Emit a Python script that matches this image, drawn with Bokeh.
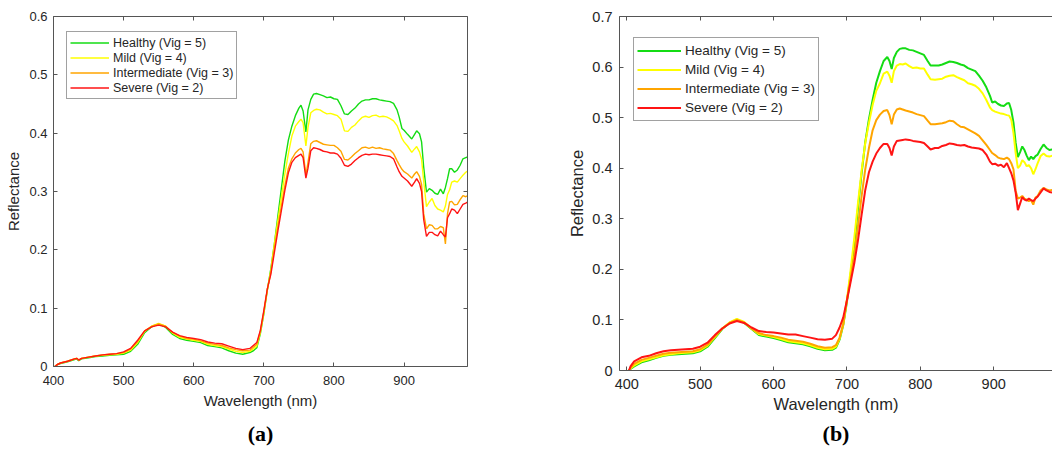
from bokeh.plotting import figure
from bokeh.models import LinearAxis, FixedTicker, Legend, LegendItem, Range1d, Title
from bokeh.layouts import row
from bokeh.embed import file_html
from bokeh.resources import INLINE

# ---------------- data ----------------
series_names = ["Healthy (Vig = 5)", "Mild (Vig = 4)", "Intermediate (Vig = 3)", "Severe (Vig = 2)"]
series_colors = ["#14dc14", "#ffff00", "#ffa500", "#ff1414"]

x_ticks = [400, 500, 600, 700, 800, 900]
x_tick_labels = ["400", "500", "600", "700", "800", "900"]
ya_ticks = [0, 0.1, 0.2, 0.3, 0.4, 0.5, 0.6]
ya_tick_labels = ["0", "0.1", "0.2", "0.3", "0.4", "0.5", "0.6"]
yb_ticks = [0, 0.1, 0.2, 0.3, 0.4, 0.5, 0.6, 0.7]
yb_tick_labels = ["0", "0.1", "0.2", "0.3", "0.4", "0.5", "0.6", "0.7"]

# panel (a)
wl_a = [402, 405, 410, 420, 430, 433, 436, 440, 450, 460, 470, 480, 490, 500, 510, 520, 530, 540,
        550, 560, 570, 580, 590, 600, 610, 620, 630, 640, 650, 660, 670, 680, 685, 690, 695, 700,
        705, 710, 715, 720, 725, 730, 735, 740, 745, 750, 753, 756, 760, 763, 767, 771, 775, 780,
        785, 790, 795, 800, 805, 810, 815, 820, 825, 830, 835, 840, 845, 850, 855, 860, 865, 870,
        875, 880, 885, 890, 893, 897, 900, 905, 911, 915, 918, 922, 925, 928, 932, 936, 940, 944,
        948, 952, 956, 959, 962, 965, 968, 972, 976, 980, 984, 988, 992]
healthy_a = [0.000, 0.003, 0.005, 0.008, 0.012, 0.013, 0.010, 0.013, 0.015, 0.017, 0.018, 0.019, 0.020,
             0.021, 0.026, 0.038, 0.058, 0.068, 0.073, 0.067, 0.055, 0.048, 0.045, 0.043, 0.041, 0.036,
             0.034, 0.032, 0.027, 0.023, 0.021, 0.024, 0.027, 0.032, 0.056, 0.090, 0.131, 0.168, 0.210,
             0.258, 0.305, 0.352, 0.388, 0.412, 0.430, 0.443, 0.448, 0.438, 0.402, 0.440, 0.458, 0.467,
             0.468, 0.466, 0.464, 0.461, 0.462, 0.459, 0.458, 0.447, 0.433, 0.432, 0.438, 0.443, 0.450,
             0.455, 0.457, 0.457, 0.459, 0.459, 0.457, 0.456, 0.455, 0.454, 0.451, 0.440, 0.428, 0.408,
             0.405, 0.398, 0.390, 0.398, 0.404, 0.399, 0.385, 0.342, 0.299, 0.305, 0.302, 0.297, 0.295,
             0.304, 0.296, 0.307, 0.322, 0.339, 0.339, 0.333, 0.337, 0.345, 0.356, 0.358, 0.360]
mild_a = [0.000, 0.003, 0.006, 0.009, 0.013, 0.014, 0.011, 0.014, 0.016, 0.018, 0.019, 0.020, 0.021,
          0.023, 0.028, 0.041, 0.060, 0.069, 0.074, 0.069, 0.057, 0.050, 0.047, 0.045, 0.043, 0.038,
          0.036, 0.034, 0.030, 0.026, 0.024, 0.026, 0.030, 0.035, 0.058, 0.092, 0.131, 0.165, 0.210,
          0.250, 0.290, 0.330, 0.365, 0.395, 0.412, 0.420, 0.424, 0.418, 0.378, 0.410, 0.435, 0.439,
          0.441, 0.440, 0.436, 0.433, 0.434, 0.432, 0.430, 0.424, 0.404, 0.403, 0.410, 0.414, 0.421,
          0.427, 0.429, 0.427, 0.430, 0.431, 0.428, 0.429, 0.428, 0.425, 0.421, 0.413, 0.404, 0.391,
          0.385, 0.378, 0.367, 0.373, 0.377, 0.368, 0.355, 0.318, 0.274, 0.282, 0.288, 0.276, 0.270,
          0.268, 0.265, 0.275, 0.295, 0.303, 0.316, 0.318, 0.316, 0.322, 0.328, 0.333, 0.336]
inter_a = [0.000, 0.003, 0.006, 0.009, 0.013, 0.014, 0.011, 0.014, 0.016, 0.018, 0.020, 0.021, 0.022,
           0.024, 0.030, 0.043, 0.061, 0.069, 0.073, 0.069, 0.058, 0.052, 0.048, 0.047, 0.044, 0.040,
           0.038, 0.036, 0.032, 0.029, 0.027, 0.028, 0.033, 0.038, 0.060, 0.094, 0.132, 0.162, 0.203,
           0.240, 0.275, 0.310, 0.340, 0.356, 0.366, 0.372, 0.374, 0.368, 0.328, 0.350, 0.382, 0.386,
           0.387, 0.384, 0.381, 0.380, 0.379, 0.379, 0.375, 0.369, 0.355, 0.354, 0.359, 0.365, 0.370,
           0.375, 0.376, 0.374, 0.376, 0.374, 0.375, 0.373, 0.372, 0.371, 0.365, 0.353, 0.346, 0.338,
           0.334, 0.330, 0.323, 0.330, 0.334, 0.326, 0.312, 0.262, 0.236, 0.243, 0.242, 0.236, 0.236,
           0.240, 0.238, 0.210, 0.262, 0.282, 0.283, 0.277, 0.278, 0.286, 0.293, 0.291, 0.294]
severe_a = [0.000, 0.003, 0.006, 0.009, 0.013, 0.014, 0.011, 0.014, 0.016, 0.018, 0.020, 0.021, 0.022,
            0.025, 0.031, 0.045, 0.061, 0.068, 0.071, 0.068, 0.059, 0.053, 0.050, 0.048, 0.046, 0.042,
            0.040, 0.039, 0.035, 0.031, 0.029, 0.031, 0.036, 0.041, 0.062, 0.096, 0.133, 0.158, 0.195,
            0.232, 0.267, 0.302, 0.332, 0.350, 0.358, 0.362, 0.364, 0.358, 0.323, 0.340, 0.370, 0.375,
            0.374, 0.372, 0.369, 0.368, 0.366, 0.366, 0.364, 0.357, 0.345, 0.343, 0.347, 0.353, 0.358,
            0.362, 0.364, 0.363, 0.364, 0.364, 0.363, 0.362, 0.361, 0.360, 0.356, 0.342, 0.334, 0.326,
            0.323, 0.318, 0.309, 0.316, 0.322, 0.314, 0.300, 0.252, 0.223, 0.230, 0.230, 0.226, 0.224,
            0.232, 0.226, 0.222, 0.255, 0.262, 0.270, 0.268, 0.262, 0.270, 0.278, 0.280, 0.283]

# panel (b)
wl_b = [403, 405, 410, 420, 430, 440, 450, 460, 470, 480, 490, 500, 510, 520, 530, 540, 550, 560, 570,
        580, 590, 600, 610, 620, 630, 640, 650, 660, 670, 680, 685, 690, 695, 700, 705, 710, 715, 720,
        725, 730, 735, 740, 745, 750, 755, 758, 761, 764, 768, 772, 776, 780, 785, 790, 795, 800, 805,
        810, 814, 820, 825, 830, 835, 840, 845, 850, 855, 860, 865, 870, 875, 880, 885, 890, 895, 898,
        902, 906, 910, 914, 918, 921, 924, 927, 930, 933, 936, 939, 942, 945, 948, 951, 954, 957, 960,
        964, 968, 972, 976, 980, 985]
healthy_b = [0.000, 0.003, 0.008, 0.016, 0.020, 0.025, 0.029, 0.031, 0.032, 0.033, 0.034, 0.038, 0.047,
             0.064, 0.082, 0.094, 0.101, 0.094, 0.082, 0.070, 0.067, 0.064, 0.060, 0.056, 0.054, 0.052,
             0.048, 0.043, 0.040, 0.041, 0.045, 0.061, 0.090, 0.136, 0.190, 0.248, 0.320, 0.390, 0.452,
             0.497, 0.535, 0.569, 0.592, 0.612, 0.620, 0.612, 0.596, 0.618, 0.630, 0.636, 0.637, 0.637,
             0.634, 0.633, 0.630, 0.627, 0.624, 0.612, 0.603, 0.603, 0.603, 0.605, 0.608, 0.611, 0.610,
             0.608, 0.605, 0.603, 0.598, 0.595, 0.592, 0.583, 0.573, 0.560, 0.543, 0.530, 0.532, 0.527,
             0.524, 0.523, 0.528, 0.529, 0.515, 0.490, 0.450, 0.422, 0.432, 0.443, 0.436, 0.425, 0.416,
             0.423, 0.418, 0.424, 0.427, 0.438, 0.447, 0.440, 0.436, 0.437, 0.438]
mild_b = [0.000, 0.004, 0.010, 0.018, 0.022, 0.026, 0.030, 0.032, 0.034, 0.035, 0.036, 0.040, 0.049,
          0.066, 0.083, 0.095, 0.102, 0.096, 0.083, 0.072, 0.069, 0.066, 0.062, 0.058, 0.056, 0.054,
          0.050, 0.045, 0.042, 0.043, 0.047, 0.063, 0.092, 0.140, 0.198, 0.262, 0.330, 0.395, 0.450,
          0.490, 0.525, 0.553, 0.568, 0.587, 0.591, 0.583, 0.569, 0.592, 0.603, 0.606, 0.605, 0.607,
          0.602, 0.598, 0.599, 0.597, 0.597, 0.585, 0.576, 0.575, 0.576, 0.577, 0.581, 0.583, 0.584,
          0.580, 0.577, 0.574, 0.568, 0.566, 0.563, 0.557, 0.548, 0.535, 0.520, 0.515, 0.512, 0.510,
          0.508, 0.507, 0.505, 0.504, 0.496, 0.470, 0.430, 0.400, 0.405, 0.416, 0.412, 0.404, 0.406,
          0.400, 0.388, 0.398, 0.410, 0.424, 0.429, 0.424, 0.423, 0.425, 0.426]
inter_b = [0.000, 0.005, 0.013, 0.021, 0.025, 0.029, 0.033, 0.035, 0.036, 0.037, 0.038, 0.042, 0.051,
           0.067, 0.083, 0.094, 0.100, 0.095, 0.083, 0.074, 0.070, 0.068, 0.065, 0.061, 0.059, 0.057,
           0.053, 0.048, 0.045, 0.046, 0.050, 0.065, 0.092, 0.139, 0.182, 0.228, 0.285, 0.345, 0.398,
           0.440, 0.475, 0.495, 0.506, 0.513, 0.515, 0.505, 0.487, 0.506, 0.516, 0.518, 0.516, 0.514,
           0.512, 0.510, 0.507, 0.505, 0.503, 0.494, 0.487, 0.487, 0.488, 0.489, 0.491, 0.494, 0.493,
           0.487, 0.482, 0.481, 0.477, 0.473, 0.469, 0.464, 0.455, 0.446, 0.436, 0.430, 0.426, 0.421,
           0.419, 0.418, 0.421, 0.418, 0.410, 0.398, 0.355, 0.340, 0.342, 0.345, 0.340, 0.338, 0.335,
           0.337, 0.328, 0.342, 0.345, 0.356, 0.361, 0.358, 0.356, 0.357, 0.358]
severe_b = [0.000, 0.008, 0.018, 0.026, 0.029, 0.034, 0.038, 0.040, 0.041, 0.042, 0.043, 0.047, 0.055,
            0.070, 0.083, 0.093, 0.098, 0.094, 0.085, 0.078, 0.076, 0.075, 0.073, 0.071, 0.071, 0.068,
            0.065, 0.062, 0.061, 0.063, 0.070, 0.085, 0.105, 0.139, 0.175, 0.212, 0.257, 0.308, 0.357,
            0.392, 0.413, 0.429, 0.440, 0.448, 0.448, 0.440, 0.425, 0.443, 0.454, 0.455, 0.456, 0.457,
            0.456, 0.454, 0.453, 0.452, 0.450, 0.443, 0.437, 0.440, 0.440, 0.444, 0.446, 0.449, 0.448,
            0.446, 0.445, 0.446, 0.443, 0.441, 0.440, 0.439, 0.436, 0.427, 0.413, 0.408, 0.409, 0.405,
            0.407, 0.402, 0.410, 0.400, 0.390, 0.376, 0.352, 0.317, 0.330, 0.343, 0.338, 0.336, 0.340,
            0.337, 0.335, 0.340, 0.344, 0.352, 0.360, 0.356, 0.353, 0.352, 0.354]

FONT = "Liberation Sans"
TXT = "#262626"
AXC = "#555555"


def style_axis(ax, ticks, labels, fs, show_labels=True):
    ax.ticker = FixedTicker(ticks=ticks)
    ax.axis_line_color = AXC
    ax.axis_line_width = 1
    ax.major_tick_line_color = AXC
    ax.major_tick_in = 4
    ax.major_tick_out = 0
    ax.minor_tick_in = 0
    ax.minor_tick_out = 0
    if show_labels:
        ax.major_label_overrides = dict(zip(ticks, labels))
        ax.major_label_text_font = FONT
        ax.major_label_text_font_size = fs
        ax.major_label_text_color = TXT
    else:
        # frame-side ticks only (MATLAB box style), labels not drawn
        ax.major_label_text_font_size = "1px"
        ax.major_label_text_color = None
        ax.major_label_standoff = 0


def make_panel(wl, data, xr, yr, yticks, ylabels, frame_w, frame_h, b_left, b_right, b_top,
               b_bottom, fs_tick, fs_label, fs_leg, lw, x_standoff, y_standoff, lab_standoff,
               leg_xy, leg_row, leg_glyph, leg_pad, tag, tag_offset, tag_standoff, right_axis):
    p = figure(output_backend="svg", toolbar_location=None,
               frame_width=frame_w, frame_height=frame_h,
               x_range=Range1d(*xr), y_range=Range1d(*yr),
               min_border_left=b_left, min_border_right=b_right,
               min_border_top=b_top, min_border_bottom=b_bottom)
    p.outline_line_color = None
    p.xgrid.visible = False
    p.ygrid.visible = False
    p.background_fill_color = "white"
    p.border_fill_color = "white"

    style_axis(p.xaxis[0], x_ticks, x_tick_labels, fs_tick)
    style_axis(p.yaxis[0], yticks, ylabels, fs_tick)
    p.xaxis[0].major_label_standoff = x_standoff
    p.yaxis[0].major_label_standoff = y_standoff
    for ax, lab in ((p.xaxis[0], "Wavelength (nm)"), (p.yaxis[0], "Reflectance")):
        ax.axis_label = lab
        ax.axis_label_text_font = FONT
        ax.axis_label_text_font_size = fs_label
        ax.axis_label_text_font_style = "normal"
        ax.axis_label_text_color = TXT
        ax.axis_label_standoff = lab_standoff

    top = LinearAxis()
    style_axis(top, x_ticks, x_tick_labels, fs_tick, show_labels=False)
    p.add_layout(top, "above")
    if right_axis:
        rgt = LinearAxis()
        style_axis(rgt, yticks, ylabels, fs_tick, show_labels=False)
        p.add_layout(rgt, "right")

    items = []
    for name, col, ys in zip(series_names, series_colors, data):
        r = p.line(wl, ys, line_color=col, line_width=lw)
        items.append(LegendItem(label=name, renderers=[r]))

    leg_h = 2 * leg_pad + 4 * leg_row
    legend = Legend(items=items, location=(leg_xy[0], frame_h - leg_xy[1] - leg_h),
                    margin=0, padding=leg_pad, spacing=0,
                    glyph_width=leg_glyph, glyph_height=leg_row, label_height=leg_row,
                    label_standoff=4, label_text_font=FONT, label_text_font_size=fs_leg,
                    label_text_color=TXT, border_line_color="#444444", border_line_width=1,
                    background_fill_color="white", background_fill_alpha=1.0)
    p.add_layout(legend)

    t = Title(text=tag, align="center", text_font="Liberation Serif", text_font_size="22px",
              text_font_style="bold", text_color="black", offset=tag_offset, standoff=tag_standoff)
    p.add_layout(t, "below")
    return p


pa = make_panel(wl_a, [healthy_a, mild_a, inter_a, severe_a], (400, 990.5), (0, 0.6),
                ya_ticks, ya_tick_labels, 414, 350, 53, 93, 16, 86,
                "13px", "15px", "12.5px", 1.4, 9, 6, 4,
                (13, 17), 15, 39, 3, "(a)", -9, 14, True)
pb = make_panel(wl_b, [healthy_b, mild_b, inter_b, severe_b], (390, 980.2), (0, 0.7),
                yb_ticks, yb_tick_labels, 433, 354, 59, 0, 13, 85,
                "14.5px", "16.5px", "13.5px", 2, 8, 7, 3,
                (14, 23), 19, 44, 3, "(b)", 0, 7, False)

layout = row(pa, pb)
open("out.html", "w").write(file_html(layout, INLINE))
